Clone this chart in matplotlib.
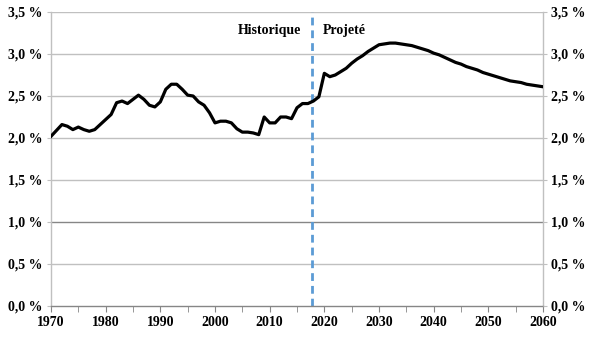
import numpy as np
import matplotlib
matplotlib.use("Agg")
from matplotlib import pyplot as plt
from matplotlib.ticker import FuncFormatter, MultipleLocator

years = np.arange(1970, 2061)
rate = [
    2.02, 2.09, 2.16, 2.14, 2.10, 2.13, 2.10, 2.08, 2.10, 2.16,  # 1970-1979
    2.22, 2.28, 2.42, 2.44, 2.41, 2.46, 2.51, 2.46, 2.39, 2.37,  # 1980-1989
    2.43, 2.58, 2.64, 2.64, 2.58, 2.51, 2.50, 2.43, 2.39, 2.30,  # 1990-1999
    2.18, 2.20, 2.20, 2.18, 2.11, 2.07, 2.07, 2.06, 2.04, 2.25,  # 2000-2009
    2.18, 2.18, 2.25, 2.25, 2.23, 2.36, 2.41, 2.41, 2.44, 2.49,  # 2010-2019
    2.77, 2.73, 2.75, 2.79, 2.83, 2.89, 2.94, 2.98, 3.03, 3.07,  # 2020-2029
    3.11, 3.12, 3.13, 3.13, 3.12, 3.11, 3.10, 3.08, 3.06, 3.04,  # 2030-2039
    3.01, 2.99, 2.96, 2.93, 2.90, 2.88, 2.85, 2.83, 2.81, 2.78,  # 2040-2049
    2.76, 2.74, 2.72, 2.70, 2.68, 2.67, 2.66, 2.64, 2.63, 2.62,  # 2050-2059
    2.61,                                                        # 2060
]
split_year = 2017.7
labels = ["Historique", "Projeté"]

font = {"family": "Liberation Serif", "weight": "bold", "size": 10}
pct = FuncFormatter(lambda v, _: ("%.1f %%" % v).replace(".", ","))

fig = plt.figure(figsize=(5.94, 3.37), dpi=100)
ax = fig.add_axes([51 / 594, 1 - 306 / 337, 492 / 594, 294 / 337])

ax.set_xlim(1970, 2060)
ax.set_ylim(0, 3.5)
ax.yaxis.set_major_locator(MultipleLocator(0.5))
ax.yaxis.set_major_formatter(pct)
ax.xaxis.set_major_locator(MultipleLocator(10))
ax.xaxis.set_minor_locator(MultipleLocator(5))

for v in np.arange(0.5, 3.51, 0.5):
    c = "#868686" if abs(v - 1.0) < 1e-9 else "#c0c0c0"
    ax.axhline(v, color=c, lw=1, zorder=1)

ax.axvline(split_year, color="#5b9bd5", lw=2, dashes=(2.8, 1.8), zorder=2)
ax.plot(years, rate, color="black", lw=2.3, solid_joinstyle="round", zorder=3)

ax.text(split_year - 2, 3.28, labels[0], ha="right", va="center", **font)
ax.text(split_year + 2, 3.28, labels[1], ha="left", va="center", **font)

ax.spines["top"].set_visible(False)
for s in ["left", "right", "bottom"]:
    ax.spines[s].set_color("#c0c0c0")
    ax.spines[s].set_linewidth(1)
ax.spines["bottom"].set_color("#868686")

ax.tick_params(axis="x", which="both", direction="out", length=4, color="#868686", pad=3)
ax.tick_params(axis="y", length=3, color="#c0c0c0", pad=3)
for t in ax.get_xticklabels() + ax.get_yticklabels():
    t.set_fontproperties(matplotlib.font_manager.FontProperties(**font))

# same scale repeated on the right-hand side
ax2 = ax.twinx()
ax2.set_ylim(ax.get_ylim())
ax2.yaxis.set_major_locator(MultipleLocator(0.5))
ax2.yaxis.set_major_formatter(pct)
ax2.tick_params(axis="y", length=3, color="#c0c0c0", pad=3)
for s in ax2.spines.values():
    s.set_visible(False)
for t in ax2.get_yticklabels():
    t.set_fontproperties(matplotlib.font_manager.FontProperties(**font))

fig.savefig("out.png", dpi=100)
